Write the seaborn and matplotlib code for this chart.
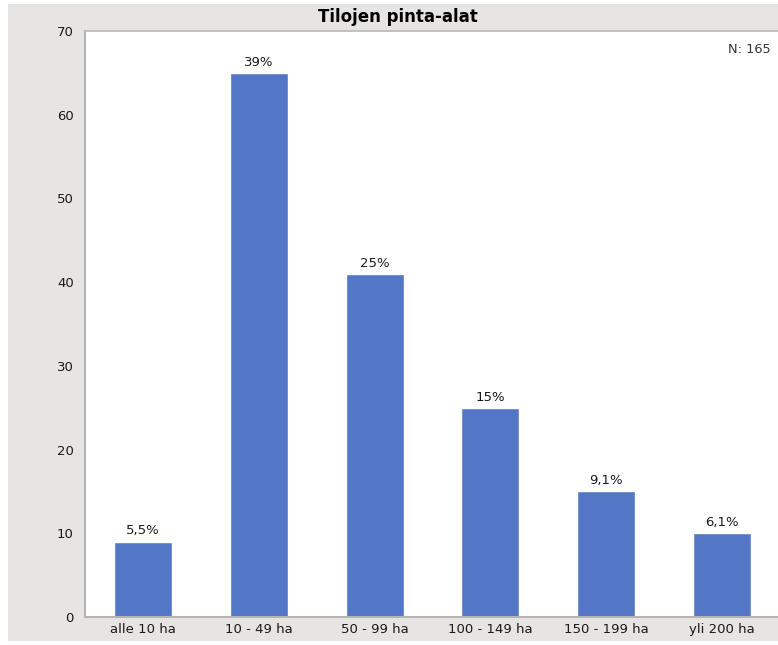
import matplotlib
matplotlib.use("Agg")
import matplotlib.pyplot as plt
from matplotlib.patches import Rectangle
import seaborn as sns
import pandas as pd

# data
categories = ['alle 10 ha', '10 - 49 ha', '50 - 99 ha', '100 - 149 ha', '150 - 199 ha', 'yli 200 ha']
counts = [9, 65, 41, 25, 15, 10]
pct_labels = ['5,5%', '39%', '25%', '15%', '9,1%', '6,1%']
n_total = 165

df = pd.DataFrame({'cat': categories, 'n': counts})

sns.set_style("white")
plt.rcParams['font.family'] = ['DejaVu Sans']

W, H = 778, 645
fig = plt.figure(figsize=(W / 100, H / 100), dpi=100, facecolor='white')

# grey frame behind the chart
fig.patches.append(Rectangle((8 / W, 4 / H), 1, (641 - 4) / H, transform=fig.transFigure,
                             facecolor='#E6E5E3', edgecolor='none', zorder=-10))

ax = fig.add_axes([85 / W, (H - 617) / H, (780 - 85) / W, (617 - 31) / H])
ax.set_zorder(5)
sns.barplot(data=df, x='cat', y='n', color='#5377C6', saturation=1, width=0.5, ax=ax)
ax.set_facecolor('white')
ax.set_xlim(-0.5, 5.5)
ax.set_ylim(0, 70)
ax.set_yticks(range(0, 71, 10))
ax.set_xlabel('')
ax.set_ylabel('')

for s in ['left', 'bottom']:
    ax.spines[s].set_color('#B4B4B4')
    ax.spines[s].set_linewidth(1.5)
ax.spines['top'].set_color('#B8B8B8')
ax.spines['top'].set_linewidth(1.2)
ax.spines['right'].set_visible(False)
ax.tick_params(axis='y', length=5, width=1, color='#A0A0A0', labelsize=9.5, labelcolor='#1a1a1a', pad=3)
ax.tick_params(axis='x', length=0, labelsize=9.5, labelcolor='#1a1a1a', pad=4)

# percentage labels above bars
for i, (v, lab) in enumerate(zip(counts, pct_labels)):
    ax.annotate(lab, (i, v), xytext=(0, 3), textcoords='offset points',
                ha='center', va='bottom', fontsize=9.5, color='#1a1a1a')

ax.text(0.986, 0.98, f'N: {n_total}', transform=ax.transAxes, ha='right', va='top',
        fontsize=9.3, color='#333333')

fig.text(398 / W, 1 - 17 / H, 'Tilojen pinta-alat', ha='center', va='center',
         fontsize=12, fontweight='bold', color='black')

fig.savefig('out.png', dpi=100)
